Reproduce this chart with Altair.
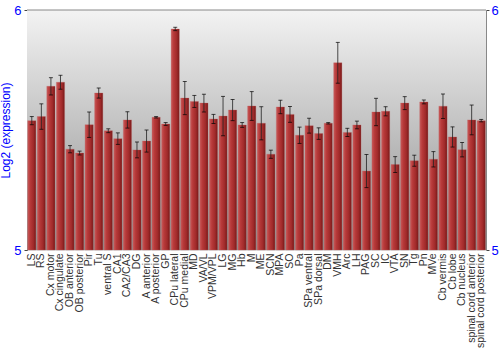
import altair as alt
import pandas as pd

regions = ["LS", "RS", "Cx motor", "Cx cingulate", "OB anterior", "OB posterior", "Pir", "Tu",
           "ventral S", "CA1", "CA2/CA3", "DG", "A anterior", "A posterior", "GP", "CPu lateral",
           "CPu medial", "MD", "VA/VL", "VPM/VPL", "LG", "MG", "Hb", "M", "ME", "SCN", "MPA", "SO",
           "Pa", "SPa ventral", "SPa dorsal", "DM", "VMH", "Arc", "LH", "PAG", "SC", "IC", "VTA",
           "SN", "Tg", "Pn", "MVe", "Cb vermis", "Cb lobe", "Cb nucleus", "spinal cord anterior",
           "spinal cord posterior"]
values = [5.539, 5.556, 5.682, 5.699, 5.420, 5.404, 5.522, 5.654,
          5.497, 5.464, 5.542, 5.417, 5.454, 5.553, 5.525, 5.921,
          5.633, 5.619, 5.612, 5.546, 5.558, 5.583, 5.521, 5.600, 5.528, 5.399, 5.596, 5.565,
          5.478, 5.518, 5.485, 5.528, 5.780, 5.490, 5.521, 5.329, 5.575, 5.578, 5.356,
          5.612, 5.372, 5.617, 5.378, 5.599, 5.471, 5.418, 5.542,
          5.539]
errors = [0.017, 0.053, 0.036, 0.029, 0.015, 0.008, 0.053, 0.021,
          0.008, 0.024, 0.034, 0.033, 0.046, 0.003, 0.006, 0.007,
          0.069, 0.025, 0.037, 0.019, 0.082, 0.044, 0.010, 0.060, 0.069, 0.017, 0.028, 0.033,
          0.034, 0.031, 0.024, 0.003, 0.085, 0.017, 0.016, 0.069, 0.057, 0.019, 0.033,
          0.027, 0.023, 0.008, 0.032, 0.051, 0.042, 0.030, 0.062,
          0.005]

df = pd.DataFrame({"region": regions, "value": values, "err": errors})
df["lo"] = df["value"] - df["err"]
df["hi"] = df["value"] + df["err"]

FONT = "Liberation Sans"
yscale = alt.Scale(domain=[5, 6], nice=False, zero=False)
xenc = alt.X("region:N", sort=regions,
             scale=alt.Scale(paddingInner=0.14, paddingOuter=0.07),
             axis=alt.Axis(title=None, labelAngle=-90, labelFontSize=10.5, labelFont=FONT,
                           labelColor="#333", ticks=False, domain=False, labelPadding=3,
                           labelLimit=200))
xplain = alt.X("region:N", sort=regions)

bg = alt.Chart(pd.DataFrame({"a": [0]})).mark_rect(
    color=alt.Gradient(gradient="linear", x1=0, x2=0, y1=0, y2=1,
                       stops=[alt.GradientStop(offset=0, color="#f3f3f3"),
                              alt.GradientStop(offset=1, color="#8e8e8e")])
).encode(x=alt.value(0), x2=alt.value(459), y=alt.value(0), y2=alt.value(240))

bars = alt.Chart(df).mark_bar(
    color=alt.Gradient(gradient="linear", x1=0, x2=1, y1=0, y2=0,
                       stops=[alt.GradientStop(offset=0, color="#c85a5a"),
                              alt.GradientStop(offset=0.3, color="#b83a3a"),
                              alt.GradientStop(offset=0.7, color="#a02a2a"),
                              alt.GradientStop(offset=1, color="#761818")]),
    stroke="#c06060", strokeWidth=0.5, strokeOpacity=0.6
).encode(
    x=xenc,
    y=alt.Y("value:Q", scale=yscale,
            axis=alt.Axis(title="Log2 (expression)", values=[5, 6], orient="left", format="d",
                          labelColor="blue", titleColor="blue", labelFontSize=13,
                          titleFontSize=12, titleFontWeight="normal", labelFont=FONT,
                          titleFont=FONT, tickSize=3, tickColor="#444", domainColor="#444",
                          labelPadding=3, titlePadding=1, grid=False)),
    y2=alt.datum(5)
)

rules = alt.Chart(df).mark_rule(color="#222", opacity=0.8, strokeWidth=1).encode(
    x=xplain, y=alt.Y("lo:Q", scale=yscale, axis=None), y2="hi:Q")
caps_lo = alt.Chart(df).mark_tick(color="black", size=4, thickness=1).encode(
    x=xplain, y=alt.Y("lo:Q", scale=yscale, axis=None))
caps_hi = alt.Chart(df).mark_tick(color="black", size=4, thickness=1).encode(
    x=xplain, y=alt.Y("hi:Q", scale=yscale, axis=None))

right = alt.Chart(df).mark_point(opacity=0).encode(
    x=xplain,
    y=alt.Y("value:Q", scale=yscale,
            axis=alt.Axis(title=None, values=[5, 6], orient="right", format="d",
                          labelColor="blue", labelFontSize=13, labelFont=FONT, tickSize=3,
                          tickColor="#444", domainColor="#888", labelPadding=2, grid=False)))

topline = alt.Chart(pd.DataFrame({"a": [0]})).mark_rule(color="#888").encode(
    x=alt.value(0), x2=alt.value(459), y=alt.value(0))

chart = alt.layer(bg, bars, rules, caps_lo, caps_hi, right, topline).resolve_axis(
    y="independent"
).properties(
    width=459, height=240,
    autosize=alt.AutoSizeParams(type="none"),
    padding={"left": 27, "top": 10, "right": 14, "bottom": 100}
).configure_view(stroke=None).configure(background="white")

chart.save("out.html", embed_options={"renderer": "svg", "actions": False})
